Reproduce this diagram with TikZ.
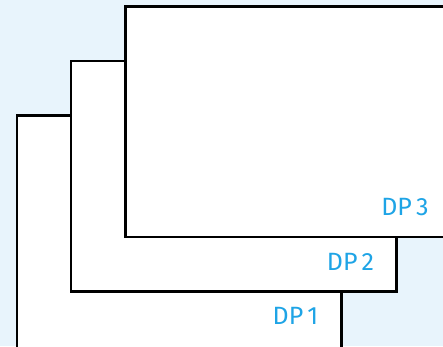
\documentclass[tikz,border=0pt]{standalone}
\usepackage{fontspec}
\setmainfont{Fira Sans}
\definecolor{bgblue}{HTML}{E8F4FC}
\definecolor{labblue}{HTML}{1EA4E6}
\begin{document}
\begin{tikzpicture}[x=1pt,y=-1pt,
  sheet/.style={draw=black,fill=white,line width=2.2pt},
  dplabel/.style={text=labblue,font=\fontsize{25}{25}\selectfont,inner sep=0pt}]
\fill[bgblue] (0,0) rectangle (443,346);
\useasboundingbox (0,0) rectangle (443,346);
\begin{scope}
\clip (0,0) rectangle (443,346);
\draw[sheet] (17,115.5) rectangle (341.5,370);
\node[dplabel] (l1) at (295.5,316) {DP\,1};
\draw[sheet] (71,61) rectangle (396.5,291.5);
\node[dplabel] (l2) at (350.5,261.5) {DP\,2};
\draw[sheet] (125.5,6.5) rectangle (470,237);
\node[dplabel] (l3) at (405,207) {DP\,3};
\end{scope}
\end{tikzpicture}
\end{document}
